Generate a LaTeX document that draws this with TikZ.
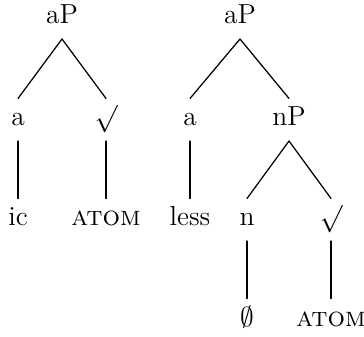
\documentclass[tikz,border=0pt]{standalone}
\usepackage{amsmath, amssymb}
\usepackage{tikz}
\usetikzlibrary{positioning}

\begin{document}
\begin{tikzpicture}[x=0.4pt, y=-0.4pt,
    font=\fontsize{11}{14}\selectfont,
    tn/.style={text height=7.5pt, text depth=2.5pt, inner sep=3.3pt, anchor=base},
    edge/.style={line width=0.5pt, line cap=round}]
    \useasboundingbox (0,0) rectangle (364,337);

    % 左树
    \node[tn] (aP1)   at (62, 24)   {aP};
    \node[tn] (a1)    at (18, 126)  {a};
    \node[tn] (rt1)   at (106, 126) {$\surd$};
    \node[tn] (ic)    at (18, 226)  {ic};
    \node[tn] (atom1) at (106, 226) {\textsc{atom}};

    \draw[edge] (aP1.south) -- (a1.north);
    \draw[edge] (aP1.south) -- (rt1.north);
    \draw[edge] (a1.south) -- (ic.north);
    \draw[edge] (rt1.south) -- (atom1.north);

    % 右树
    \node[tn] (aP2)   at (240, 24)  {aP};
    \node[tn] (a2)    at (190, 126) {a};
    \node[tn] (nP)    at (289, 126) {nP};
    \node[tn] (less)  at (190, 226) {less};
    \node[tn] (n)     at (247, 226) {n};
    \node[tn] (rt2)   at (331, 226) {$\surd$};
    \node[tn] (null)  at (247, 326) {$\emptyset$};
    \node[tn] (atom2) at (331, 326) {\textsc{atom}};

    \draw[edge] (aP2.south) -- (a2.north);
    \draw[edge] (aP2.south) -- (nP.north);
    \draw[edge] (a2.south) -- (less.north);
    \draw[edge] (nP.south) -- (n.north);
    \draw[edge] (nP.south) -- (rt2.north);
    \draw[edge] (n.south) -- (null.north);
    \draw[edge] (rt2.south) -- (atom2.north);
\end{tikzpicture}
\end{document}
